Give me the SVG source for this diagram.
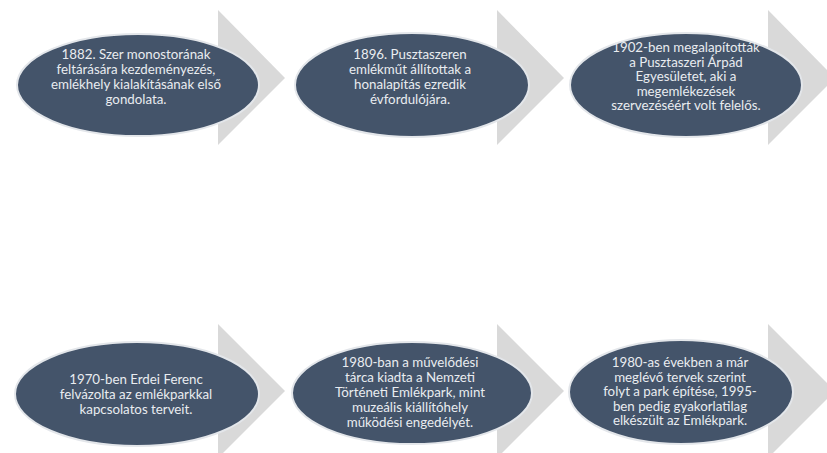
<svg xmlns="http://www.w3.org/2000/svg" width="827" height="453" viewBox="0 0 827 453">
<style>
.arr{fill:#d9d9d9}
.ell{fill:#44546a;stroke:#e3e6ea;stroke-width:2}
.t{font-family:Lato,"Open Sans","Liberation Sans",sans-serif;font-size:13.3px;fill:#e9ecf0;text-anchor:middle}
</style>
<rect width="827" height="453" fill="#ffffff"/>
<g id="connectors">
<polygon class="arr" points="218,10 285,78 218,145"/>
<polygon class="arr" points="497,10 564,78 497,145"/>
<polygon class="arr" points="768,10 835,78 768,145"/>
<polygon class="arr" points="218,324 285,391 218,458"/>
<polygon class="arr" points="497,324 564,391 497,458"/>
<polygon class="arr" points="768,324 835,391 768,458"/>
</g>
<g id="n1">
<ellipse class="ell" cx="138" cy="85" rx="121" ry="51"/>
<text class="t"><tspan x="136" y="59">1882. Szer monostorának</tspan><tspan x="136" y="74">feltárására kezdeményezés,</tspan><tspan x="136" y="89">emlékhely kialakításának első</tspan><tspan x="136" y="104">gondolata.</tspan></text>
</g>
<g id="n2">
<ellipse class="ell" cx="412" cy="85" rx="117" ry="52"/>
<text class="t"><tspan x="410" y="59">1896. Pusztaszeren</tspan><tspan x="410" y="74">emlékműt állítottak a</tspan><tspan x="410" y="89">honalapítás ezredik</tspan><tspan x="410" y="104">évfordulójára.</tspan></text>
</g>
<g id="n3">
<ellipse class="ell" cx="686" cy="85" rx="116" ry="52"/>
<text class="t"><tspan x="686" y="52">1902-ben megalapították</tspan><tspan x="686" y="66.5">a Pusztaszeri Árpád</tspan><tspan x="686" y="81">Egyesületet, aki a</tspan><tspan x="686" y="95.5">megemlékezések</tspan><tspan x="686" y="110">szervezéséért volt felelős.</tspan></text>
</g>
<g id="n4">
<ellipse class="ell" cx="137" cy="394" rx="122" ry="52"/>
<text class="t"><tspan x="136" y="384">1970-ben Erdei Ferenc</tspan><tspan x="136" y="399">felvázolta az emlékparkkal</tspan><tspan x="136" y="414">kapcsolatos terveit.</tspan></text>
</g>
<g id="n5">
<ellipse class="ell" cx="412" cy="393" rx="120" ry="51"/>
<text class="t"><tspan x="410" y="367">1980-ban a művelődési</tspan><tspan x="410" y="382">tárca kiadta a Nemzeti</tspan><tspan x="410" y="397">Történeti Emlékpark, mint</tspan><tspan x="410" y="412">muzeális kiállítóhely</tspan><tspan x="410" y="427">működési engedélyét.</tspan></text>
</g>
<g id="n6">
<ellipse class="ell" cx="681" cy="392" rx="112" ry="52"/>
<text class="t"><tspan x="680" y="367">1980-as években a már</tspan><tspan x="680" y="381.5">meglévő tervek szerint</tspan><tspan x="680" y="396">folyt a park építése, 1995-</tspan><tspan x="680" y="410.5">ben pedig gyakorlatilag</tspan><tspan x="680" y="425">elkészült az Emlékpark.</tspan></text>
</g>
</svg>
